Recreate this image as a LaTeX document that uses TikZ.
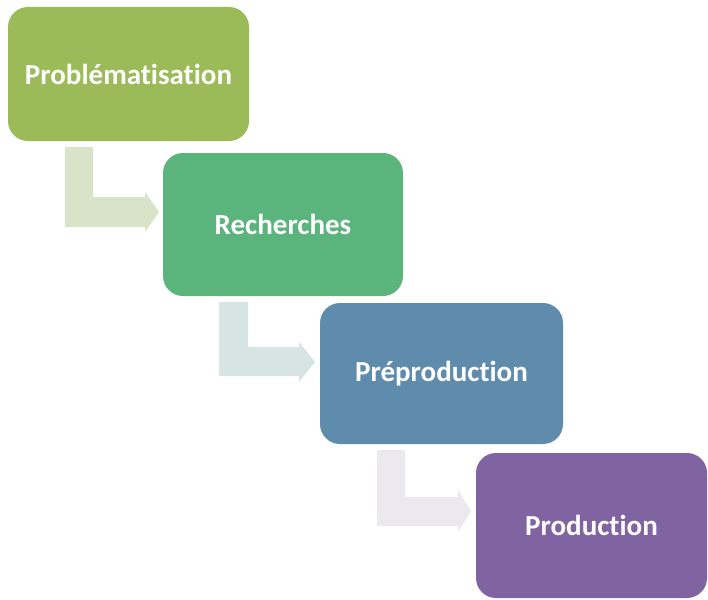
\documentclass[tikz,border=0pt]{standalone}
\usepackage{fontspec}
\setmainfont{Carlito}[Ligatures=NoCommon]
\definecolor{cA}{HTML}{9BBB59}
\definecolor{cB}{HTML}{5BB47B}
\definecolor{cC}{HTML}{5F8BAD}
\definecolor{cD}{HTML}{8064A2}
\definecolor{aA}{HTML}{D8E3C7}
\definecolor{aB}{HTML}{D6E5E4}
\definecolor{aC}{HTML}{ECE8EF}
\begin{document}
\begin{tikzpicture}[x=1pt,y=-1pt,
  stage/.style={rectangle,rounded corners=20pt,draw=none,text=white,
    font=\fontsize{29}{34}\selectfont\bfseries,inner sep=0pt}]
\useasboundingbox (0,0) rectangle (708,599);
\node[stage,fill=cA,minimum width=241pt,minimum height=134pt] (p1) at (128.5,74) {Problématisation};
\node[stage,fill=cB,minimum width=240pt,minimum height=143pt] (p2) at (283,224.5) {Recherches};
\node[stage,fill=cC,minimum width=243pt,minimum height=141pt] (p3) at (441.5,373.5) {Préproduction};
\node[stage,fill=cD,minimum width=231pt,minimum height=145pt] (p4) at (591.5,525.5) {Production};
\fill[aA] (65,147) -- (93,147) -- (93,197) -- (145,197) -- (145,192) -- (159,212) -- (145,232) -- (145,227) -- (65,227) -- cycle;
\fill[aB] (219,302) -- (248,302) -- (248,347) -- (299,347) -- (299,342) -- (315,362) -- (299,382) -- (299,376) -- (219,376) -- cycle;
\fill[aC] (377,450) -- (405,450) -- (405,497) -- (458,497) -- (458,490) -- (471,511) -- (458,532) -- (458,526) -- (377,526) -- cycle;
\end{tikzpicture}
\end{document}
